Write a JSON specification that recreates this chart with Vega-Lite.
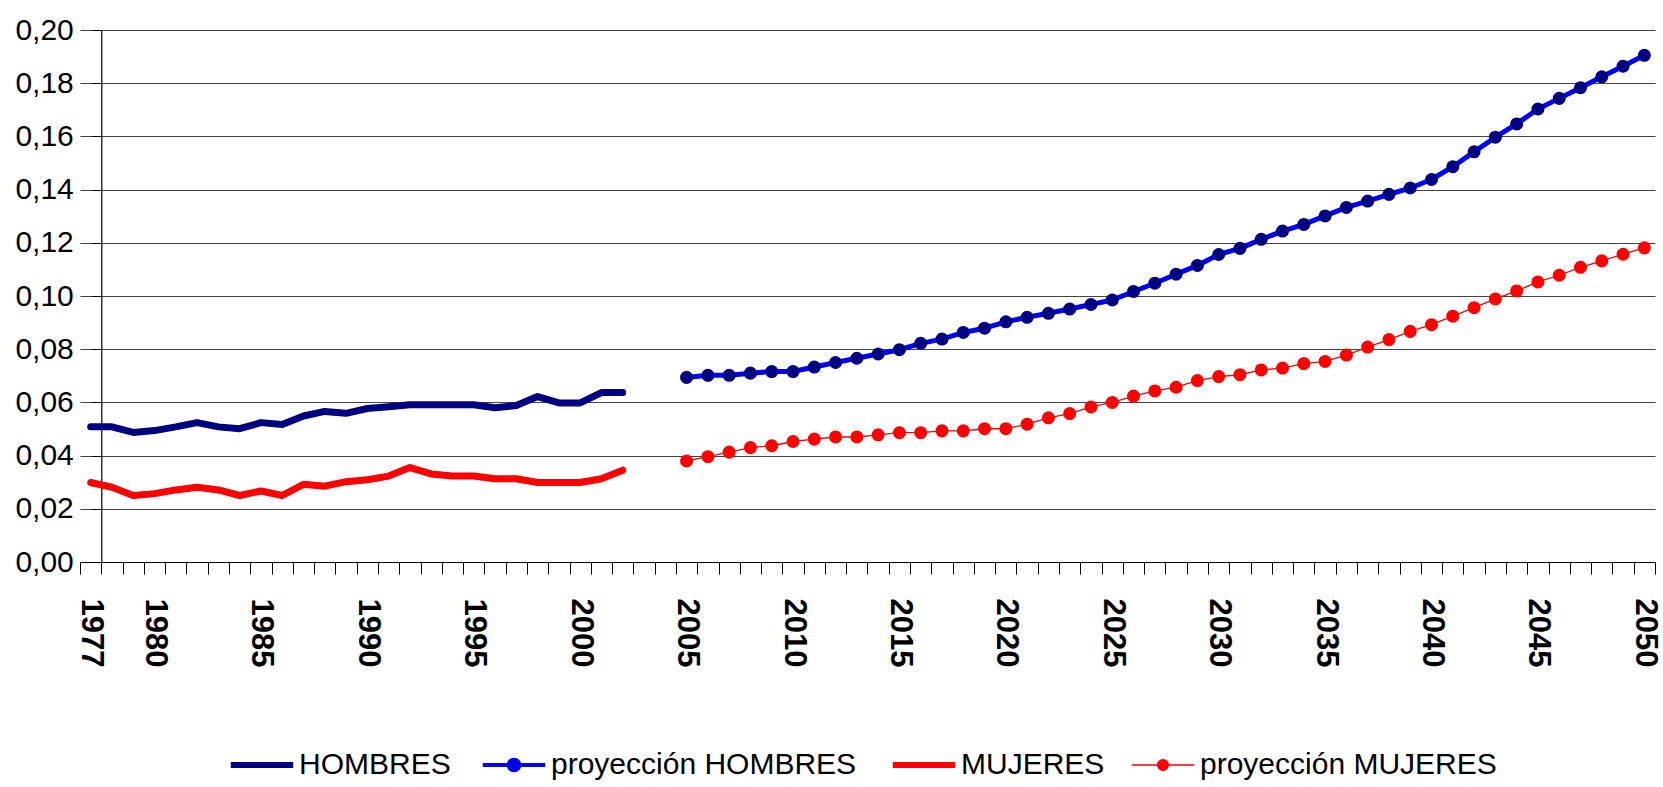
{
  "$schema": "https://vega.github.io/schema/vega-lite/v6.json",
  "width": 1575,
  "height": 532,
  "autosize": {"type": "none"},
  "padding": {"left": 80, "top": 30, "right": 8, "bottom": 225},
  "background": "white",
  "config": {
    "view": {"stroke": null},
    "font": "Liberation Sans"
  },
  "data": {"values": [
    {"year":1977,"series":"HOMBRES","value":0.0508},{"year":1978,"series":"HOMBRES","value":0.0508},{"year":1979,"series":"HOMBRES","value":0.0487},{"year":1980,"series":"HOMBRES","value":0.0494},{"year":1981,"series":"HOMBRES","value":0.0508},{"year":1982,"series":"HOMBRES","value":0.0524},{"year":1983,"series":"HOMBRES","value":0.0508},{"year":1984,"series":"HOMBRES","value":0.0501},{"year":1985,"series":"HOMBRES","value":0.0524},{"year":1986,"series":"HOMBRES","value":0.0517},{"year":1987,"series":"HOMBRES","value":0.0549},{"year":1988,"series":"HOMBRES","value":0.0566},{"year":1989,"series":"HOMBRES","value":0.0559},{"year":1990,"series":"HOMBRES","value":0.0577},{"year":1991,"series":"HOMBRES","value":0.0584},{"year":1992,"series":"HOMBRES","value":0.0591},{"year":1993,"series":"HOMBRES","value":0.0591},{"year":1994,"series":"HOMBRES","value":0.0591},{"year":1995,"series":"HOMBRES","value":0.0591},{"year":1996,"series":"HOMBRES","value":0.0580},{"year":1997,"series":"HOMBRES","value":0.0588},{"year":1998,"series":"HOMBRES","value":0.0622},{"year":1999,"series":"HOMBRES","value":0.0598},{"year":2000,"series":"HOMBRES","value":0.0598},{"year":2001,"series":"HOMBRES","value":0.0637},{"year":2002,"series":"HOMBRES","value":0.0637},
    {"year":1977,"series":"MUJERES","value":0.0299},{"year":1978,"series":"MUJERES","value":0.0281},{"year":1979,"series":"MUJERES","value":0.0250},{"year":1980,"series":"MUJERES","value":0.0257},{"year":1981,"series":"MUJERES","value":0.0271},{"year":1982,"series":"MUJERES","value":0.0281},{"year":1983,"series":"MUJERES","value":0.0271},{"year":1984,"series":"MUJERES","value":0.0250},{"year":1985,"series":"MUJERES","value":0.0267},{"year":1986,"series":"MUJERES","value":0.0250},{"year":1987,"series":"MUJERES","value":0.0292},{"year":1988,"series":"MUJERES","value":0.0285},{"year":1989,"series":"MUJERES","value":0.0302},{"year":1990,"series":"MUJERES","value":0.0309},{"year":1991,"series":"MUJERES","value":0.0323},{"year":1992,"series":"MUJERES","value":0.0355},{"year":1993,"series":"MUJERES","value":0.0331},{"year":1994,"series":"MUJERES","value":0.0323},{"year":1995,"series":"MUJERES","value":0.0323},{"year":1996,"series":"MUJERES","value":0.0313},{"year":1997,"series":"MUJERES","value":0.0313},{"year":1998,"series":"MUJERES","value":0.0299},{"year":1999,"series":"MUJERES","value":0.0299},{"year":2000,"series":"MUJERES","value":0.0299},{"year":2001,"series":"MUJERES","value":0.0313},{"year":2002,"series":"MUJERES","value":0.0345},
    {"year":2005,"series":"proyección HOMBRES","value":0.0694},{"year":2006,"series":"proyección HOMBRES","value":0.0702},{"year":2007,"series":"proyección HOMBRES","value":0.0702},{"year":2008,"series":"proyección HOMBRES","value":0.0710},{"year":2009,"series":"proyección HOMBRES","value":0.0716},{"year":2010,"series":"proyección HOMBRES","value":0.0716},{"year":2011,"series":"proyección HOMBRES","value":0.0733},{"year":2012,"series":"proyección HOMBRES","value":0.0750},{"year":2013,"series":"proyección HOMBRES","value":0.0766},{"year":2014,"series":"proyección HOMBRES","value":0.0782},{"year":2015,"series":"proyección HOMBRES","value":0.0798},{"year":2016,"series":"proyección HOMBRES","value":0.0822},{"year":2017,"series":"proyección HOMBRES","value":0.0838},{"year":2018,"series":"proyección HOMBRES","value":0.0863},{"year":2019,"series":"proyección HOMBRES","value":0.0879},{"year":2020,"series":"proyección HOMBRES","value":0.0903},{"year":2021,"series":"proyección HOMBRES","value":0.0920},{"year":2022,"series":"proyección HOMBRES","value":0.0935},{"year":2023,"series":"proyección HOMBRES","value":0.0951},{"year":2024,"series":"proyección HOMBRES","value":0.0968},{"year":2025,"series":"proyección HOMBRES","value":0.0985},{"year":2026,"series":"proyección HOMBRES","value":0.1017},{"year":2027,"series":"proyección HOMBRES","value":0.1048},{"year":2028,"series":"proyección HOMBRES","value":0.1082},{"year":2029,"series":"proyección HOMBRES","value":0.1115},{"year":2030,"series":"proyección HOMBRES","value":0.1156},{"year":2031,"series":"proyección HOMBRES","value":0.1179},{"year":2032,"series":"proyección HOMBRES","value":0.1213},{"year":2033,"series":"proyección HOMBRES","value":0.1244},{"year":2034,"series":"proyección HOMBRES","value":0.1269},{"year":2035,"series":"proyección HOMBRES","value":0.1301},{"year":2036,"series":"proyección HOMBRES","value":0.1333},{"year":2037,"series":"proyección HOMBRES","value":0.1357},{"year":2038,"series":"proyección HOMBRES","value":0.1382},{"year":2039,"series":"proyección HOMBRES","value":0.1406},{"year":2040,"series":"proyección HOMBRES","value":0.1438},{"year":2041,"series":"proyección HOMBRES","value":0.1486},{"year":2042,"series":"proyección HOMBRES","value":0.1542},{"year":2043,"series":"proyección HOMBRES","value":0.1597},{"year":2044,"series":"proyección HOMBRES","value":0.1647},{"year":2045,"series":"proyección HOMBRES","value":0.1703},{"year":2046,"series":"proyección HOMBRES","value":0.1743},{"year":2047,"series":"proyección HOMBRES","value":0.1783},{"year":2048,"series":"proyección HOMBRES","value":0.1824},{"year":2049,"series":"proyección HOMBRES","value":0.1864},{"year":2050,"series":"proyección HOMBRES","value":0.1905},
    {"year":2005,"series":"proyección MUJERES","value":0.0380},{"year":2006,"series":"proyección MUJERES","value":0.0396},{"year":2007,"series":"proyección MUJERES","value":0.0413},{"year":2008,"series":"proyección MUJERES","value":0.0430},{"year":2009,"series":"proyección MUJERES","value":0.0437},{"year":2010,"series":"proyección MUJERES","value":0.0453},{"year":2011,"series":"proyección MUJERES","value":0.0462},{"year":2012,"series":"proyección MUJERES","value":0.0470},{"year":2013,"series":"proyección MUJERES","value":0.0470},{"year":2014,"series":"proyección MUJERES","value":0.0478},{"year":2015,"series":"proyección MUJERES","value":0.0486},{"year":2016,"series":"proyección MUJERES","value":0.0486},{"year":2017,"series":"proyección MUJERES","value":0.0493},{"year":2018,"series":"proyección MUJERES","value":0.0493},{"year":2019,"series":"proyección MUJERES","value":0.0501},{"year":2020,"series":"proyección MUJERES","value":0.0501},{"year":2021,"series":"proyección MUJERES","value":0.0518},{"year":2022,"series":"proyección MUJERES","value":0.0542},{"year":2023,"series":"proyección MUJERES","value":0.0558},{"year":2024,"series":"proyección MUJERES","value":0.0583},{"year":2025,"series":"proyección MUJERES","value":0.0600},{"year":2026,"series":"proyección MUJERES","value":0.0624},{"year":2027,"series":"proyección MUJERES","value":0.0643},{"year":2028,"series":"proyección MUJERES","value":0.0657},{"year":2029,"series":"proyección MUJERES","value":0.0682},{"year":2030,"series":"proyección MUJERES","value":0.0697},{"year":2031,"series":"proyección MUJERES","value":0.0704},{"year":2032,"series":"proyección MUJERES","value":0.0722},{"year":2033,"series":"proyección MUJERES","value":0.0729},{"year":2034,"series":"proyección MUJERES","value":0.0746},{"year":2035,"series":"proyección MUJERES","value":0.0754},{"year":2036,"series":"proyección MUJERES","value":0.0778},{"year":2037,"series":"proyección MUJERES","value":0.0808},{"year":2038,"series":"proyección MUJERES","value":0.0836},{"year":2039,"series":"proyección MUJERES","value":0.0867},{"year":2040,"series":"proyección MUJERES","value":0.0892},{"year":2041,"series":"proyección MUJERES","value":0.0924},{"year":2042,"series":"proyección MUJERES","value":0.0956},{"year":2043,"series":"proyección MUJERES","value":0.0989},{"year":2044,"series":"proyección MUJERES","value":0.1019},{"year":2045,"series":"proyección MUJERES","value":0.1053},{"year":2046,"series":"proyección MUJERES","value":0.1078},{"year":2047,"series":"proyección MUJERES","value":0.1108},{"year":2048,"series":"proyección MUJERES","value":0.1132},{"year":2049,"series":"proyección MUJERES","value":0.1157},{"year":2050,"series":"proyección MUJERES","value":0.1181}
  ]},
  "encoding": {
    "x": {
      "field": "year", "type": "ordinal",
      "scale": {"type": "band", "paddingInner": 0, "paddingOuter": 0,
        "domain": [1977,1978,1979,1980,1981,1982,1983,1984,1985,1986,1987,1988,1989,1990,1991,1992,1993,1994,1995,1996,1997,1998,1999,2000,2001,2002,2003,2004,2005,2006,2007,2008,2009,2010,2011,2012,2013,2014,2015,2016,2017,2018,2019,2020,2021,2022,2023,2024,2025,2026,2027,2028,2029,2030,2031,2032,2033,2034,2035,2036,2037,2038,2039,2040,2041,2042,2043,2044,2045,2046,2047,2048,2049,2050]},
      "axis": {
        "title": null, "grid": false, "tickBand": "extent",
        "labelExpr": "datum.value == 1977 || datum.value % 5 == 0 ? datum.label : ''",
        "labelAngle": 90, "labelAlign": "left", "labelBaseline": "middle",
        "labelFont": "Liberation Sans", "labelFontWeight": "bold", "labelFontSize": 31, "labelColor": "black",
        "labelPadding": 24, "labelOverlap": false, "labelBound": false,
        "tickSize": 12, "tickColor": "black", "domainColor": "black", "domainWidth": 1.2
      }
    },
    "y": {
      "field": "value", "type": "quantitative",
      "scale": {"domain": [0, 0.2], "nice": false, "zero": true},
      "axis": {
        "title": null, "offset": -21.3,
        "values": [0, 0.02, 0.04, 0.06, 0.08, 0.1, 0.12, 0.14, 0.16, 0.18, 0.2],
        "labelExpr": "replace(format(datum.value, '.2f'), '.', ',')",
        "labelFont": "Liberation Sans", "labelFontSize": 30, "labelColor": "black",
        "labelPadding": 18, "tickSize": 10, "tickColor": "black",
        "domainColor": "black", "domainWidth": 1.2,
        "grid": true, "gridColor": "#444444", "gridWidth": 1.2
      }
    }
  },
  "layer": [
    {
      "transform": [{"filter": "datum.series == 'HOMBRES'"}],
      "mark": {"type": "line", "strokeWidth": 7, "strokeCap": "round", "strokeJoin": "round"},
      "encoding": {
        "color": {
          "field": "series", "type": "nominal",
          "scale": {"domain": ["HOMBRES", "proyección HOMBRES", "MUJERES", "proyección MUJERES"],
                    "range": ["#000080", "#0000FF", "#FF0000", "#FF0000"]},
          "legend": {
            "title": null, "orient": "none", "legendX": 167, "legendY": 720,
            "direction": "horizontal", "columns": 4, "columnPadding": 23,
            "labelFont": "Liberation Sans", "labelFontSize": 30, "labelColor": "black",
            "labelLimit": 0, "labelOffset": 22, "symbolSize": 3900,
            "encode": {
              "symbols": {
                "update": {
                  "shape": {"signal": "indexof(['proyección HOMBRES','proyección MUJERES'], datum.value) >= 0 ? 'M-1,0H1M0.17,0A0.17,0.17,0,1,1,-0.17,0A0.17,0.17,0,1,1,0.17,0Z' : 'M-1,0H1'"},
                  "fill": {"signal": "datum.value == 'proyección HOMBRES' ? '#000080' : datum.value == 'proyección MUJERES' ? '#FF0000' : 'transparent'"},
                  "strokeWidth": {"signal": "datum.value == 'proyección MUJERES' ? 1.5 : datum.value == 'proyección HOMBRES' ? 4 : 6"},
                  "opacity": {"value": 1}
                }
              }
            }
          }
        }
      }
    },
    {
      "transform": [{"filter": "datum.series == 'proyección HOMBRES'"}],
      "mark": {"type": "line", "strokeWidth": 5, "strokeJoin": "round"},
      "encoding": {"color": {"field": "series", "type": "nominal"}}
    },
    {
      "transform": [{"filter": "datum.series == 'MUJERES'"}],
      "mark": {"type": "line", "strokeWidth": 7, "strokeCap": "round", "strokeJoin": "round"},
      "encoding": {"color": {"field": "series", "type": "nominal"}}
    },
    {
      "transform": [{"filter": "datum.series == 'proyección MUJERES'"}],
      "mark": {"type": "line", "strokeWidth": 1.3},
      "encoding": {"color": {"field": "series", "type": "nominal"}}
    },
    {
      "transform": [{"filter": "indexof(datum.series, 'proyección') == 0"}],
      "mark": {"type": "point", "filled": true, "opacity": 1, "size": 170},
      "encoding": {
        "fill": {"condition": {"test": "datum.series == 'proyección HOMBRES'", "value": "#000080"}, "value": "#FF0000"}
      }
    }
  ]
}
